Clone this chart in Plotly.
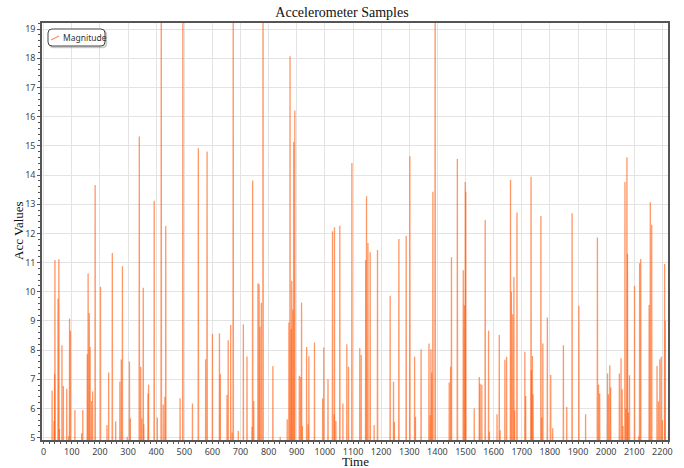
import plotly.graph_objects as go

# ---- data ----
rest_level = 1.0  # sensor level between events (below visible axis range)

spike_time = [
    30, 37, 39, 40, 51, 54, 56, 65, 70, 82, 89, 92, 95, 111, 135, 139, 155, 158, 162, 165,
    170, 174, 183, 202, 225, 231, 244, 256, 271, 276, 280, 297, 305, 308, 340, 345, 349, 354,
    356, 371, 373, 393, 404, 418, 425, 431, 434, 485, 495, 529, 550,
    576, 581, 600, 625, 628, 652, 656, 665, 670, 674, 692, 710, 723, 741, 743, 747, 762, 766,
    769, 774, 780, 815, 841, 866, 872, 876, 880, 882, 886, 889, 893, 909, 914, 917, 920, 935,
    940, 943, 963, 992, 996, 1011, 1027, 1033, 1034, 1039, 1053, 1064, 1078, 1084, 1096,
    1124, 1129, 1145, 1148, 1153, 1161, 1175, 1187, 1232, 1244, 1247, 1263, 1289, 1302, 1319,
    1322, 1342, 1370, 1374, 1377, 1380, 1384, 1392, 1442, 1447, 1450, 1471, 1492, 1496, 1499,
    1501, 1531, 1549, 1552, 1558, 1570, 1582, 1585, 1612, 1620, 1623, 1640, 1646,
    1660, 1663, 1668, 1672, 1675, 1683, 1711, 1714, 1733, 1734, 1738, 1740, 1768, 1771, 1775,
    1791, 1803, 1810, 1848, 1860, 1879, 1903, 1927, 1969, 1973, 1977, 2005, 2008, 2013, 2016,
    2047, 2053, 2057, 2060, 2067, 2070, 2074, 2076, 2079, 2083, 2101, 2116, 2119, 2123, 2153,
    2157, 2162, 2181, 2186, 2191, 2196, 2200, 2208, 2210,
]
spike_value = [
    6.62, 5.57, 7.17, 11.09, 9.77, 11.11, 5.3, 8.17, 6.77, 6.68, 5.05, 9.08, 8.66, 5.95, 5.15, 5.95, 7.86, 10.63, 9.27, 8.11,
    6.26, 6.58, 13.66, 10.17, 5.43, 7.23, 11.33, 5.55, 6.92, 7.68, 10.87, 5.03, 7.61, 5.66, 15.32, 7.43, 5.66, 10.14,
    5.46, 6.51, 6.81, 13.12, 5.69, 21.5, 6.14, 6.4, 12.25, 6.35, 22.0, 6.17, 14.92,
    7.69, 14.81, 8.55, 8.58, 7.17, 6.46, 8.34, 8.86, 5.17, 20.5, 5.23, 8.89, 7.78, 5.37, 13.81, 6.26, 10.29, 10.26,
    8.8, 9.62, 21.0, 7.46, 5.02, 5.63, 8.95, 18.07, 8.72, 10.38, 9.39, 15.13, 16.21, 7.12, 7.08, 9.63, 5.4, 8.11,
    5.46, 7.79, 8.26, 6.34, 8.09, 7.0, 12.07, 5.8, 12.21, 5.57, 12.26, 6.17, 8.2, 7.43, 14.41,
    8.07, 7.83, 11.09, 13.27, 11.67, 11.35, 5.43, 11.43, 9.86, 6.92, 5.54, 11.81, 11.92, 14.64, 7.77,
    5.72, 8.03, 8.23, 5.77, 8.03, 7.23, 13.43, 22.0, 6.89, 7.43, 11.18, 14.55, 10.74, 9.54, 13.76,
    13.43, 6.0, 7.08, 6.85, 6.81, 12.46, 8.66, 5.2, 5.8, 8.52, 5.25, 7.67, 7.77,
    13.84, 10.0, 9.23, 10.51, 5.94, 12.72, 7.94, 6.43, 13.94, 7.32, 7.8, 6.49, 12.6, 5.69, 8.23,
    9.12, 7.15, 5.32, 8.17, 6.05, 12.69, 9.52, 5.8, 11.86, 6.81, 6.51, 7.2, 6.49, 7.48, 6.72,
    7.2, 7.72, 6.66, 5.4, 13.76, 6.0, 14.61, 11.29, 5.86, 7.14, 10.21, 5.05, 10.98, 11.12, 9.55,
    13.07, 12.3, 7.46, 6.24, 7.69, 7.77, 5.6, 10.95, 9.0,
]
series_name = "Magnitude"

y_ticks = list(range(5, 20))
x_ticks = list(range(0, 2201, 100))

fig = go.Figure()
line_col = "rgba(255,88,10,0.62)"
for i, (t, v) in enumerate(zip(spike_time, spike_value)):
    fig.add_trace(go.Scatter(
        x=[t - 1, t, t + 1], y=[rest_level, v, rest_level],
        mode="lines", line=dict(color=line_col, width=1.3),
        name=series_name, legendgroup="mag", showlegend=False,
        hoverinfo="skip",
    ))

axis_common = dict(
    showgrid=True, gridcolor="#e3e3e3", gridwidth=1,
    showline=True, linecolor="#555", linewidth=1.5, mirror=True,
    ticks="outside", tickcolor="#555",
    tickfont=dict(family="Noto Sans", size=9, color="#444"),
    zeroline=False, automargin=False,
)

fig.update_xaxes(
    range=[-6, 2220], tickvals=x_ticks, ticklen=2,
    minor=dict(dtick=20, ticks="outside", ticklen=2, tickcolor="#555", showgrid=False),
    **axis_common,
)
fig.update_yaxes(
    range=[4.92, 19.21], tickvals=y_ticks, ticklen=3,
    minor=dict(dtick=0.2, ticks="outside", ticklen=2, tickcolor="#555", showgrid=False),
    **axis_common,
)

L, R, T, B = 42, 16, 23, 28
W, H = 684 - L - R, 468 - T - B

def px2paper(px, py):
    return (px - L) / W, 1 - (py - T) / H

def rounded_path(x0, y0, x1, y1, r):
    a0, b0 = px2paper(x0, y0)
    a1, b1 = px2paper(x1, y1)
    rx, ry = r / W, r / H
    return (f"M {a0+rx},{b0} L {a1-rx},{b0} Q {a1},{b0} {a1},{b0-ry} "
            f"L {a1},{b1+ry} Q {a1},{b1} {a1-rx},{b1} L {a0+rx},{b1} "
            f"Q {a0},{b1} {a0},{b1+ry} L {a0},{b0-ry} Q {a0},{b0} {a0+rx},{b0} Z")

# custom legend (rounded box with shadow, short diagonal sample line)
fig.add_shape(type="path", xref="paper", yref="paper",
              path=rounded_path(49.5, 30.5, 106.5, 47.5, 4),
              line=dict(color="rgba(0,0,0,0.18)", width=1.5), fillcolor="rgba(0,0,0,0.08)", layer="above")
fig.add_shape(type="path", xref="paper", yref="paper",
              path=rounded_path(48, 29, 105, 46, 4),
              line=dict(color="#444", width=1), fillcolor="white", layer="above")
lx0, ly0 = px2paper(51, 40)
lx1, ly1 = px2paper(59, 36)
fig.add_shape(type="line", xref="paper", yref="paper", x0=lx0, y0=ly0, x1=lx1, y1=ly1,
              line=dict(color="rgba(255,110,50,0.8)", width=1.2), layer="above")
tx, ty = px2paper(61, 37.5)
fig.add_annotation(xref="paper", yref="paper", x=tx, y=ty, xanchor="left", yanchor="middle",
                   text=series_name, showarrow=False,
                   font=dict(family="Noto Sans", size=8.5, color="#333"))

# axis titles
ax, ay = px2paper(355, 462)
fig.add_annotation(xref="paper", yref="paper", x=ax, y=ay, xanchor="center", yanchor="middle",
                   text="Time", showarrow=False, borderpad=0,
                   font=dict(family="Liberation Serif", size=13, color="#111"))
bx, by = px2paper(18, 231)
fig.add_annotation(xref="paper", yref="paper", x=bx, y=by, xanchor="center", yanchor="middle",
                   text="Acc Values", showarrow=False, textangle=-90,
                   font=dict(family="Liberation Serif", size=13, color="#111"))

fig.update_layout(
    width=684, height=468,
    margin=dict(l=L, r=R, t=T, b=B),
    paper_bgcolor="white", plot_bgcolor="white",
    title=dict(text="Accelerometer Samples", x=0.5, xanchor="center", y=1 - 12.5 / 468, yanchor="middle",
               font=dict(family="Liberation Serif", size=14, color="#111")),
    showlegend=False,
)

fig.write_html("out.html", config={"displayModeBar": False},
               post_script="document.body.style.margin='0';")
